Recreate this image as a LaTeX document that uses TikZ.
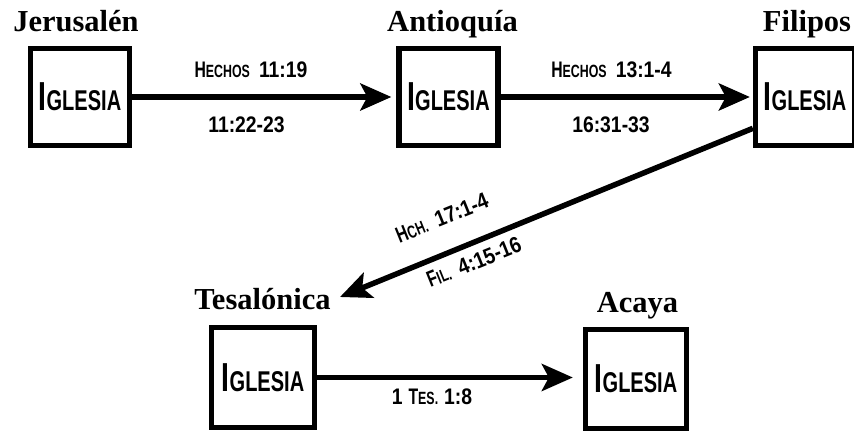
\documentclass[tikz,border=0pt]{standalone}
\usepackage{fontspec}
\setmainfont{Liberation Serif}
\newfontfamily\condL{Liberation Sans}[FakeStretch=0.70]
\newfontfamily\condD{Liberation Sans}[FakeStretch=0.86]
\usetikzlibrary{arrows.meta,calc}

\newcommand\iglesia{{\condL\bfseries\fontsize{40.5}{40.5}\selectfont I\fontsize{28.6}{28.6}\selectfont GLESIA}}
\newcommand\capw[2]{{\condL\bfseries\fontsize{22.5}{22.5}\selectfont #1\fontsize{17.7}{17.7}\selectfont #2}}
\newcommand\digs[1]{{\condD\bfseries\fontsize{22.5}{22.5}\selectfont #1}}

\begin{document}
\begin{tikzpicture}[x=1pt,y=1pt,
  church/.style={draw, line width=5.3pt, minimum width=99pt, minimum height=97pt, inner sep=0pt},
  ttl/.style={font=\bfseries\fontsize{30.5}{30.5}\selectfont, inner sep=0pt, anchor=base},
  lab/.style={inner sep=0pt},
  conn/.style={line width=5.5pt, -{Stealth[length=31pt,width=27pt,inset=7pt]}}
]
\useasboundingbox (0,0) rectangle (854,433);

\node[church] (b1) at (80,336) {\iglesia};
\node[church] (b2) at (448.5,336) {\iglesia};
\node[church] (b3) at (805,336) {\iglesia};
\node[church, minimum width=103pt, minimum height=100pt] (b4) at (263,55.5) {\iglesia};
\node[church, minimum width=101pt, minimum height=99pt] (b5) at (636,54) {\iglesia};

\node[ttl] (t1) at (76,401.3) {Jerusalén};
\node[ttl] (t2) at (452.5,401.3) {Antioquía};
\node[ttl] (t3) at (807,401.3) {Filipos};
\node[ttl] (t4) at (262.5,123) {Tesalónica};
\node[ttl] (t5) at (637.5,120) {Acaya};

\node[lab, anchor=base] (l1a) at (251,355) {\capw{H}{ECHOS}\hspace{9pt}\digs{11:19}};
\node[lab, anchor=base] (l1b) at (246.5,300) {\digs{11:22-23}};
\node[lab, anchor=base] (l2a) at (611.5,355) {\capw{H}{ECHOS}\hspace{9pt}\digs{13:1-4}};
\node[lab, anchor=base] (l2b) at (611,300) {\digs{16:31-33}};
\node[lab, anchor=base] (l4) at (432,28) {\digs{1}\hspace{6pt}\capw{T}{ES.}\hspace{6pt}\digs{1:8}};
\node[lab, rotate=22] (l3a) at (442,215) {\capw{H}{CH.}\hspace{9pt}\digs{17:1-4}};
\node[lab, rotate=22] (l3b) at (474,171) {\capw{F}{IL.}\hspace{9pt}\digs{4:15-16}};

\coordinate (tip3) at (340,136);
\draw[conn, shorten >=5pt] (b1.east) -- (b2.west);
\draw[conn, shorten >=3pt] (b2.east) -- (b3.west);
\draw[conn] (b3.211) -- (tip3);
\draw[conn, shorten >=10pt] (b4.east) -- (b4.east -| b5.west);
\end{tikzpicture}
\end{document}
